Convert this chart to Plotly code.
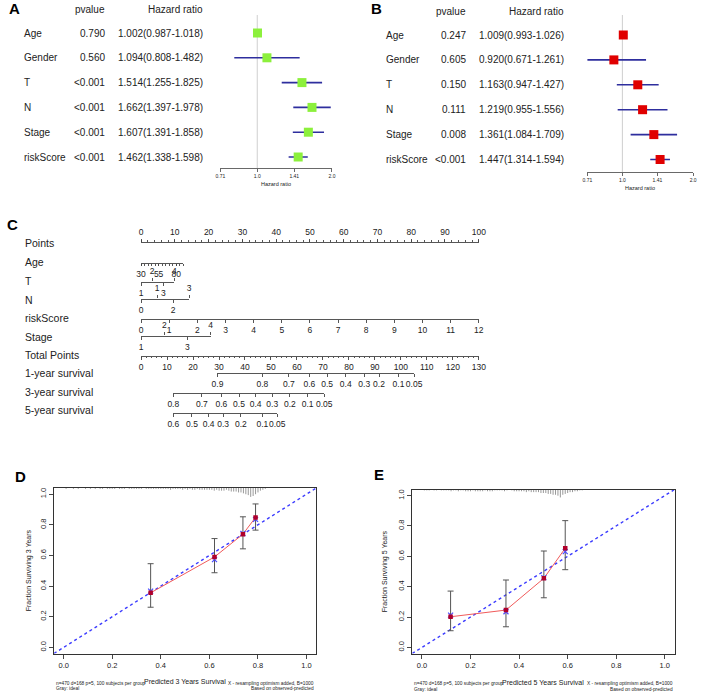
import numpy as np
import plotly.graph_objects as go

W, H = 708, 694
FONT = "Liberation Sans, Arial, Helvetica, sans-serif"
TXT = "#222222"
LINE = "#444444"

# ---------------- Panel A: univariate Cox ----------------
variables = ["Age", "Gender", "T", "N", "Stage", "riskScore"]
pvalue_a = ["0.790", "0.560", "<0.001", "<0.001", "<0.001", "<0.001"]
hr_a = [1.002, 1.094, 1.514, 1.662, 1.607, 1.462]
low_a = [0.987, 0.808, 1.255, 1.397, 1.391, 1.338]
high_a = [1.018, 1.482, 1.825, 1.978, 1.858, 1.598]

# ---------------- Panel B: multivariate Cox ----------------
pvalue_b = ["0.247", "0.605", "0.150", "0.111", "0.008", "<0.001"]
hr_b = [1.009, 0.920, 1.163, 1.219, 1.361, 1.447]
low_b = [0.993, 0.671, 0.947, 0.955, 1.084, 1.314]
high_b = [1.026, 1.261, 1.427, 1.556, 1.709, 1.594]

hr_ticks = [0.71, 1.0, 1.41, 2.0]
hr_tick_labels = ["0.71", "1.0", "1.41", "2.0"]

# ---------------- Panel C: nomogram ----------------
nomo_labels = ["Points", "Age", "T", "N", "riskScore", "Stage", "Total Points",
               "1-year survival", "3-year survival", "5-year survival"]
points_ticks = [0, 10, 20, 30, 40, 50, 60, 70, 80, 90, 100]
age_range = [30, 90]
age_labels = [30, 55, 80]
t_below = [1, 3]
t_above = [2, 4]
n_below = [0, 2]
n_above = [1, 3]
stage_below = [1, 3]
stage_above = [2, 4]
risk_ticks = [0, 1, 2, 3, 4, 5, 6, 7, 8, 9, 10, 11, 12]
total_ticks = [0, 10, 20, 30, 40, 50, 60, 70, 80, 90, 100, 110, 120, 130]
surv1_labels = ["0.9", "0.8", "0.7", "0.6", "0.5", "0.4", "0.3", "0.2", "0.1", "0.05"]
surv1_points = [29.4, 46.7, 56.9, 64.8, 71.6, 78.8, 85.9, 91.6, 99.1, 105.1]
surv3_labels = ["0.8", "0.7", "0.6", "0.5", "0.4", "0.3", "0.2", "0.1", "0.05"]
surv3_points = [12.4, 23.4, 30.9, 37.7, 44.1, 50.5, 57.3, 64.1, 70.5]
surv5_labels = ["0.6", "0.5", "0.4", "0.3", "0.2", "0.1", "0.05"]
surv5_points = [12.4, 19.6, 26.0, 31.6, 38.4, 46.7, 52.4]

# ---------------- Panels D/E: calibration ----------------
cal_ticks = [0.0, 0.2, 0.4, 0.6, 0.8, 1.0]
cal3_pred = [0.358, 0.621, 0.738, 0.790]
cal3_obs = [0.356, 0.590, 0.739, 0.848]
cal3_low = [0.262, 0.487, 0.643, 0.765]
cal3_high = [0.546, 0.710, 0.852, 0.936]
cal3_corr = [0.367, 0.573, 0.743, 0.835]

cal5_pred = [0.118, 0.346, 0.502, 0.590]
cal5_obs = [0.202, 0.246, 0.455, 0.653]
cal5_low = [0.110, 0.136, 0.327, 0.512]
cal5_high = [0.371, 0.444, 0.635, 0.835]
cal5_corr = [0.213, 0.235, 0.460, 0.631]

# histogram of predicted probabilities (counts per 0.01 bin, starting at 0.00)
rug3_counts = [0, 1, 0, 0, 1, 0, 1, 0, 0, 1,
               0, 1, 0, 1, 0, 1, 1, 0, 1, 1,
               1, 1, 0, 1, 1, 1, 0, 1, 1, 1,
               1, 1, 1, 0, 1, 1, 1, 1, 1, 1,
               1, 1, 1, 1, 2, 1, 1, 1, 1, 2,
               1, 2, 1, 2, 2, 1, 2, 2, 2, 2,
               2, 2, 3, 2, 3, 3, 3, 2, 3, 4,
               4, 4, 5, 5, 6, 7, 8, 10, 9, 7,
               5, 3, 2, 1]
rug5_counts = [0, 1, 1, 1, 0, 1, 1, 0, 1, 1,
               1, 1, 2, 1, 1, 2, 1, 1, 2, 2,
               2, 1, 2, 2, 2, 2, 1, 2, 2, 2,
               1, 1, 1, 1, 2, 1, 0, 1, 2, 2,
               2, 2, 2, 3, 2, 3, 3, 3, 3, 4,
               4, 4, 5, 5, 6, 6, 7, 9, 6, 5,
               4, 3, 3, 2, 2, 1, 1]

# ======================================================================
fig = go.Figure()
layout = {}
annotations = []
shapes = []
counters = {"x": 0, "y": 0}


def next_id(kind):
    counters[kind] += 1
    k = counters[kind]
    return kind + ("" if k == 1 else str(k))


def lname(aid):
    return aid[0] + "axis" + aid[1:]


def ann(text, x, y, size, xanchor="center", yanchor="middle", bold=False, color=TXT, textangle=0):
    annotations.append(dict(
        text=("<b>%s</b>" % text) if bold else text,
        x=x / W, y=1 - y / H, xref="paper", yref="paper",
        xanchor=xanchor, yanchor=yanchor, showarrow=False, textangle=textangle,
        font=dict(family=FONT, size=size, color=color)))


def ghost(xid, yid, xs):
    fig.add_trace(go.Scatter(x=list(xs), y=[0.5] * len(xs), xaxis=xid, yaxis=yid, mode="markers",
                             marker=dict(opacity=0, size=1), hoverinfo="skip", showlegend=False))


# ---------------- forest plots ----------------
def forest(names, pvals, hr, lo, hi, color, xpx, top_px, axis_px, row0, step,
           name_x, p_x, hr_x, head_y, letter, letter_xy, title_y):
    xid, yid = next_id("x"), next_id("y")
    r_bottom = (axis_px - row0) / step
    r_top = (top_px - row0) / step
    layout[lname(xid)] = dict(
        domain=[xpx[0] / W, xpx[1] / W], anchor=yid, type="log",
        range=[np.log10(hr_ticks[0]), np.log10(hr_ticks[-1])],
        tickmode="array", tickvals=hr_ticks, ticktext=hr_tick_labels, tickangle=0,
        ticks="outside", ticklen=3, tickwidth=0.8, tickcolor=LINE,
        showline=True, linecolor=LINE, linewidth=0.8, showgrid=False, zeroline=False,
        tickfont=dict(family=FONT, size=5, color=TXT), fixedrange=True)
    layout[lname(yid)] = dict(domain=[1 - axis_px / H, 1 - top_px / H], anchor=xid,
                              range=[r_bottom, r_top], visible=False, fixedrange=True)
    rows = list(range(len(names)))
    shapes.append(dict(type="line", xref=xid, yref=yid + " domain", x0=1.0, x1=1.0, y0=0, y1=1,
                       line=dict(color="#cfcfcf", width=1), layer="below"))
    cx, cy = [], []
    for r, a, b in zip(rows, lo, hi):
        cx += [a, b, None]
        cy += [r, r, None]
    fig.add_trace(go.Scatter(x=cx, y=cy, xaxis=xid, yaxis=yid, mode="lines",
                             line=dict(color="#2e2e9e", width=1.6), cliponaxis=False,
                             hoverinfo="skip", showlegend=False))
    fig.add_trace(go.Scatter(x=hr, y=rows, xaxis=xid, yaxis=yid, mode="markers",
                             marker=dict(symbol="square", size=9, color=color, line=dict(width=0)),
                             cliponaxis=False, showlegend=False))
    for r, nm, pv, h, a, b in zip(rows, names, pvals, hr, lo, hi):
        annotations.append(dict(text=nm, x=name_x / W, y=r, xref="paper", yref=yid, xanchor="left",
                                yanchor="middle", showarrow=False, font=dict(family=FONT, size=10, color=TXT)))
        annotations.append(dict(text=pv, x=p_x / W, y=r, xref="paper", yref=yid, xanchor="right",
                                yanchor="middle", showarrow=False, font=dict(family=FONT, size=10, color=TXT)))
        annotations.append(dict(text="%.3f(%.3f-%.3f)" % (h, a, b), x=hr_x / W, y=r, xref="paper",
                                yref=yid, xanchor="right", yanchor="middle", showarrow=False,
                                font=dict(family=FONT, size=10, color=TXT)))
    ann("pvalue", p_x, head_y, 10, xanchor="right")
    ann("Hazard ratio", hr_x, head_y, 10, xanchor="right")
    ann("Hazard ratio", (xpx[0] + xpx[1]) / 2, title_y, 5.5)
    ann(letter, letter_xy[0], letter_xy[1], 15, bold=True, color="#000")


forest(variables, pvalue_a, hr_a, low_a, high_a, "#8cf03c", (219, 333), 15, 168, 33, 24.8,
       16, 103, 203, 9.5, "A", (8.5, 8.5), 184.5)
forest(variables, pvalue_b, hr_b, low_b, high_b, "#e00000", (594, 702), 15, 172, 35, 24.9,
       386, 472, 572, 11.7, "B", (379, 8.5), 187.5)

# ---------------- nomogram ----------------
NX0, NX1 = 138, 483


def nomo_row(line_y, px0, px1, rng, below=None, above=None, minor=None, minor_len=1.5, ticklen=3):
    xid, yid = next_id("x"), next_id("y")
    common = dict(domain=[px0 / W, px1 / W], range=rng, showgrid=False, zeroline=False, tickangle=0,
                  tickfont=dict(size=8.5, color=TXT, family=FONT), ticks="outside", ticklen=ticklen,
                  tickwidth=0.9, tickcolor=LINE, fixedrange=True, tickmode="array")
    layout[lname(yid)] = dict(domain=[1 - line_y / H, 1 - (line_y - 0.3) / H], range=[0, 1],
                              visible=False, anchor=xid, fixedrange=True)
    main = below if below is not None else above
    side = "bottom" if below is not None else "top"
    ax = dict(common, anchor=yid, side=side, showline=True, linecolor=LINE, linewidth=0.9,
              tickvals=main[0], ticktext=main[1])
    if minor:
        ax["minor"] = dict(tickmode="linear", tick0=rng[0], dtick=minor, ticks="outside",
                           ticklen=minor_len, tickcolor=LINE, tickwidth=0.9)
    layout[lname(xid)] = ax
    ghost(xid, yid, main[0])
    if below is not None and above is not None:
        xo = next_id("x")
        layout[lname(xo)] = dict(common, anchor=yid, overlaying=xid, side="top", showline=False,
                                 tickvals=above[0], ticktext=above[1])
        ghost(xo, yid, above[0])


def lab(vals):
    return [str(v) for v in vals]


nomo_row(243, NX0, NX1, [points_ticks[0], points_ticks[-1]], above=(points_ticks, lab(points_ticks)), minor=2)
nomo_row(263, NX0, 181, age_range, below=(age_labels, lab(age_labels)), minor=5, minor_len=2.5, ticklen=2.5)
nomo_row(282, NX0, 172, [1, 4], below=(t_below, lab(t_below)), above=(t_above, lab(t_above)))
nomo_row(299, NX0, 187, [0, 3], below=(n_below, lab(n_below)), above=(n_above, lab(n_above)))
nomo_row(319, NX0, NX1, [risk_ticks[0], risk_ticks[-1]], below=(risk_ticks, lab(risk_ticks)))
nomo_row(336, NX0, 209, [1, 4], below=(stage_below, lab(stage_below)), above=(stage_above, lab(stage_above)))
nomo_row(356, NX0, NX1, [total_ticks[0], total_ticks[-1]], below=(total_ticks, lab(total_ticks)), minor=2)


def tp_px(v):
    return NX0 + (v - total_ticks[0]) / (total_ticks[-1] - total_ticks[0]) * (NX1 - NX0)


for ly, pts, labs in [(373, surv1_points, surv1_labels), (393, surv3_points, surv3_labels),
                      (413, surv5_points, surv5_labels)]:
    nomo_row(ly, tp_px(pts[0]), tp_px(pts[-1]), [pts[0], pts[-1]], below=(pts, labs))

for txt, yy in zip(nomo_labels, [243, 262, 281, 300, 318, 337, 355, 373, 392, 410]):
    ann(txt, 17, yy, 10.5, xanchor="left")
ann("C", 6.5, 224, 15, bold=True, color="#000")

# ---------------- calibration plots ----------------
CAL_RANGE = [-0.04, 1.04]


def calib(xpx, ypx, pred, obs, low, high, corr, rug, letter, letter_xy, xtitle, xtitle_y,
          ytitle, ytitle_x, sub_y):
    xid, yid = next_id("x"), next_id("y")
    axcommon = dict(range=CAL_RANGE, tickmode="array", tickvals=cal_ticks,
                    ticktext=["%.1f" % v for v in cal_ticks], ticks="outside", ticklen=4,
                    tickwidth=0.9, tickcolor="#333", showline=True, mirror=True, linecolor="#333",
                    linewidth=1, showgrid=False, zeroline=False, fixedrange=True,
                    tickfont=dict(family=FONT, size=7.5, color=TXT))
    layout[lname(xid)] = dict(axcommon, domain=[xpx[0] / W, xpx[1] / W], anchor=yid, tickangle=0)
    layout[lname(yid)] = dict(axcommon, domain=[1 - ypx[1] / H, 1 - ypx[0] / H], anchor=xid, tickangle=-90)
    rx, ry = [], []
    top = CAL_RANGE[1]
    for i, c in enumerate(rug):
        if c > 0:
            x = i * 0.01
            rx += [x, x, None]
            ry += [top, top - c * 0.0058, None]
    fig.add_trace(go.Scatter(x=rx, y=ry, xaxis=xid, yaxis=yid, mode="lines",
                             line=dict(color="#6d6d6d", width=0.7), hoverinfo="skip", showlegend=False))
    fig.add_trace(go.Scatter(x=CAL_RANGE, y=CAL_RANGE, xaxis=xid, yaxis=yid, mode="lines",
                             line=dict(color="#3b3bff", width=1.4, dash="dot"), hoverinfo="skip",
                             showlegend=False))
    fig.add_trace(go.Scatter(
        x=pred, y=obs, xaxis=xid, yaxis=yid, mode="lines",
        line=dict(color="#f05a5a", width=1), showlegend=False,
        error_y=dict(type="data", symmetric=False,
                     array=[h - o for h, o in zip(high, obs)],
                     arrayminus=[o - l for o, l in zip(obs, low)],
                     color="#555555", thickness=1, width=3)))
    fig.add_trace(go.Scatter(x=pred, y=corr, xaxis=xid, yaxis=yid, mode="markers",
                             marker=dict(symbol="x-thin", size=5, line=dict(color="#4a4aff", width=1.2)),
                             showlegend=False))
    fig.add_trace(go.Scatter(x=pred, y=obs, xaxis=xid, yaxis=yid, mode="markers",
                             marker=dict(symbol="square", size=4.5, color="#b0002a"), showlegend=False))
    ann(letter, letter_xy[0], letter_xy[1], 15, bold=True, color="#000")
    ann(xtitle, (xpx[0] + xpx[1]) / 2, xtitle_y, 7)
    ann(ytitle, ytitle_x, (ypx[0] + ypx[1]) / 2, 7, textangle=-90)
    ann("n=470 d=168 p=5, 100 subjects per group", xpx[0], sub_y, 4.8, xanchor="left")
    ann("Gray: ideal", xpx[0], sub_y + 5.5, 4.8, xanchor="left")
    ann("X - resampling optimism added, B=1000", xpx[1], sub_y, 4.8, xanchor="right")
    ann("Based on observed-predicted", xpx[1], sub_y + 5.5, 4.8, xanchor="right")


calib((49, 317), (488, 653.5), cal3_pred, cal3_obs, cal3_low, cal3_high, cal3_corr, rug3_counts,
      "D", (15, 477), "Predicted 3 Years Survival", 681, "Fraction Surviving 3 Years", 23, 683)
calib((415, 683), (489.5, 653.5), cal5_pred, cal5_obs, cal5_low, cal5_high, cal5_corr, rug5_counts,
      "E", (381, 474), "Predicted 5 Years Survival", 682, "Fraction Surviving 5 Years", 387, 683.5)

fig.update_layout(
    width=W, height=H, autosize=False,
    margin=dict(l=0, r=0, t=0, b=0, pad=0),
    paper_bgcolor="white", plot_bgcolor="rgba(0,0,0,0)",
    showlegend=False, font=dict(family=FONT, color=TXT),
    annotations=annotations, shapes=shapes, **layout)

fig.write_html("out.html", config={"displayModeBar": False, "staticPlot": True},
               post_script="document.body.style.margin='0';document.body.style.padding='0';"
                           "document.body.style.overflow='hidden';")
